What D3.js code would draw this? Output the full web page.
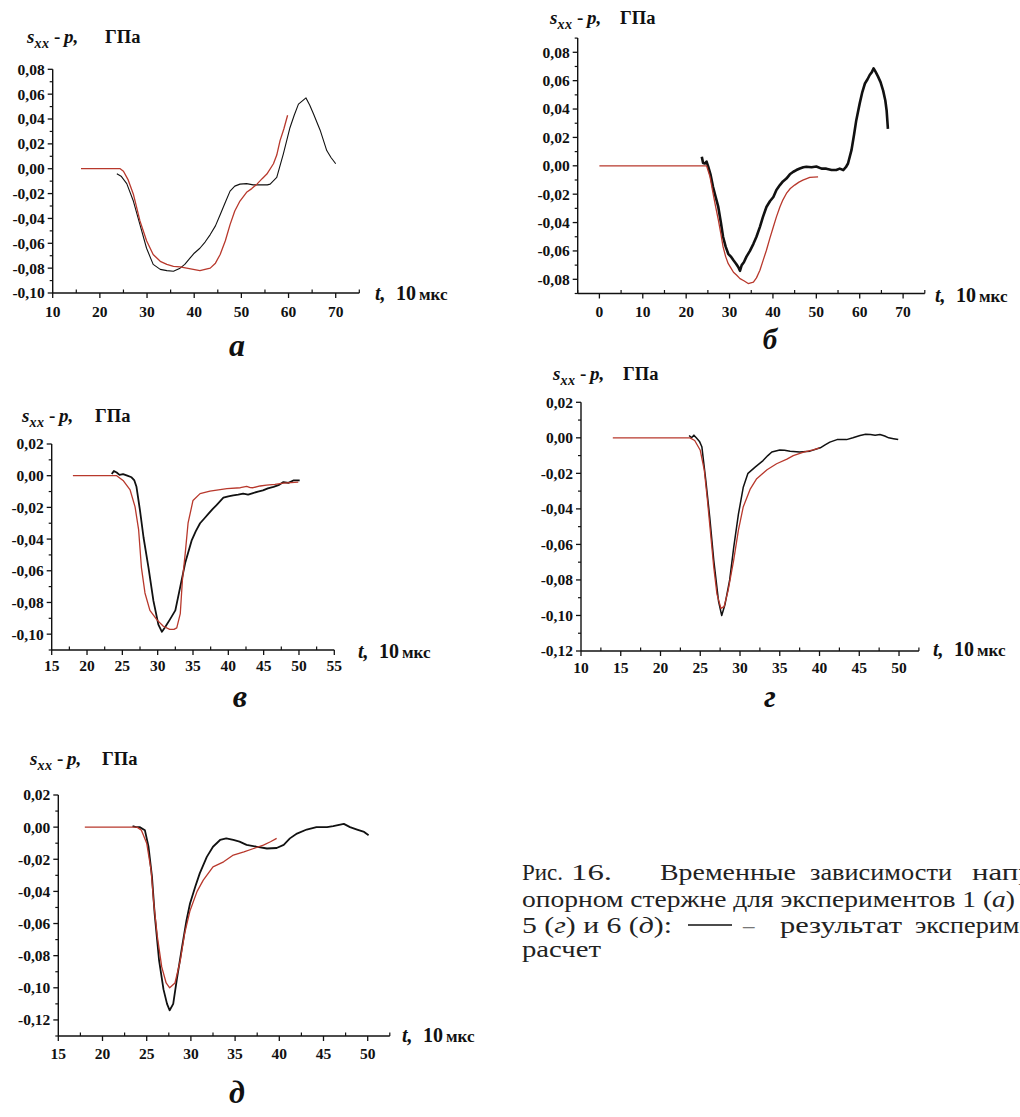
<!DOCTYPE html>
<html><head><meta charset="utf-8">
<script src="https://cdn.jsdelivr.net/npm/d3@7"></script>
<style>body{margin:0;background:#fff} svg{display:block} text{white-space:pre}</style>
</head><body><svg id="c" width="1020" height="1117"></svg>
<script>
// ---------- DATA (t in 10 мкс, value in ГПа) ----------
const expA = [[23.6,-0.004],[24.5,-0.006],[25.7,-0.012],[27.1,-0.026],[28.5,-0.045],[29.9,-0.064],[31.3,-0.077],[32.8,-0.081],[34.2,-0.082],[35.6,-0.0825],[37,-0.080],[38,-0.077],[39.1,-0.072],[40,-0.068],[41.2,-0.064],[42.3,-0.059],[43.4,-0.053],[44.5,-0.046],[45.5,-0.037],[46.6,-0.027],[47.6,-0.018],[48.6,-0.014],[49.7,-0.0124],[51.1,-0.012],[52.5,-0.013],[54,-0.013],[55.5,-0.013],[56.1,-0.0124],[57.5,-0.007],[58.9,0.012],[60.3,0.033],[61.2,0.043],[62.1,0.052],[63.7,0.057],[64.5,0.051],[65.3,0.044],[66.7,0.031],[68.1,0.0146],[69,0.009],[70,0.004]];
const calcA = [[16,0],[24.3,0],[25,-0.002],[26,-0.009],[27.1,-0.0205],[28.5,-0.042],[29.9,-0.058],[31.3,-0.069],[32.8,-0.0745],[34.2,-0.077],[35.6,-0.0785],[37,-0.079],[38.4,-0.080],[39.8,-0.081],[41.2,-0.082],[42.3,-0.081],[43.4,-0.080],[44.5,-0.076],[45.5,-0.069],[46.6,-0.058],[47.6,-0.045],[48.6,-0.034],[49.7,-0.026],[51.1,-0.019],[52.2,-0.016],[53.3,-0.0124],[54.4,-0.008],[55.4,-0.0043],[56.8,0.004],[57.5,0.011],[58.2,0.0226],[59,0.032],[59.8,0.043]];

const expB = [[23.6,0.0064],[23.9,0.002],[24.3,0.0016],[24.7,0.003],[25.1,-0.0007],[25.6,-0.006],[26.2,-0.015],[26.8,-0.022],[27.4,-0.029],[28,-0.040],[28.5,-0.05],[29.1,-0.057],[29.7,-0.062],[30.3,-0.064],[30.9,-0.0666],[31.5,-0.069],[32,-0.0713],[32.4,-0.074],[32.8,-0.07],[33.3,-0.068],[33.9,-0.064],[34.7,-0.06],[35.5,-0.055],[36.2,-0.05],[37,-0.043],[37.7,-0.036],[38.5,-0.029],[39.3,-0.025],[40.1,-0.022],[40.8,-0.017],[41.6,-0.0136],[42.3,-0.011],[43.1,-0.009],[43.9,-0.006],[44.7,-0.0042],[45.4,-0.003],[46.2,-0.0019],[47,-0.001],[47.7,-0.0007],[48.9,-0.001],[50,-0.0005],[51.2,-0.002],[52.3,-0.002],[53.5,-0.003],[54.6,-0.003],[55.4,-0.002],[56.2,-0.003],[56.8,-0.001],[57.3,0.0016],[58.1,0.011],[58.7,0.022],[59.2,0.032],[60,0.044],[60.6,0.052],[61.2,0.058],[61.8,0.061],[62.3,0.064],[62.8,0.066],[63.2,0.0687],[63.7,0.066],[64.2,0.063],[64.8,0.059],[65.4,0.053],[65.9,0.046],[66.2,0.039],[66.5,0.026]];
const calcB = [[0,0],[24.7,0],[25.5,-0.0078],[26.2,-0.0195],[26.8,-0.029],[27.4,-0.038],[28,-0.048],[28.5,-0.057],[29.1,-0.064],[29.7,-0.069],[30.3,-0.072],[30.9,-0.075],[31.6,-0.077],[32.4,-0.0795],[33.3,-0.081],[34.3,-0.083],[35.5,-0.082],[36.2,-0.079],[37,-0.0736],[37.7,-0.067],[38.5,-0.0595],[39.3,-0.051],[40.1,-0.043],[40.8,-0.036],[41.6,-0.029],[42.3,-0.024],[43.1,-0.0195],[44,-0.016],[45,-0.0136],[46,-0.0115],[46.9,-0.0101],[48.5,-0.0082],[50.4,-0.0078]];

const expV = [[23.5,0.001],[23.8,0.003],[24.2,0.002],[24.6,0.0005],[25.1,0.001],[25.7,0],[26.3,-0.001],[26.7,-0.003],[27,-0.007],[27.5,-0.022],[28,-0.039],[28.7,-0.058],[29.4,-0.079],[30.1,-0.094],[30.6,-0.0985],[31,-0.096],[31.7,-0.091],[32.5,-0.085],[33.2,-0.070],[33.9,-0.055],[34.8,-0.041],[35.4,-0.035],[36,-0.030],[36.6,-0.027],[37.2,-0.024],[37.8,-0.021],[38.3,-0.0187],[39.3,-0.0139],[40,-0.013],[40.7,-0.0124],[41.4,-0.012],[42.1,-0.0113],[42.8,-0.012],[43.5,-0.011],[44.2,-0.010],[44.9,-0.0093],[45.6,-0.008],[46.4,-0.0071],[47.1,-0.006],[47.8,-0.004],[48.5,-0.0045],[49.2,-0.003],[50.1,-0.003]];
const calcV = [[18,0],[24.2,0],[25.1,-0.003],[26.1,-0.009],[26.8,-0.0197],[27.3,-0.034],[27.7,-0.058],[28.2,-0.074],[28.9,-0.085],[29.9,-0.091],[30.8,-0.095],[31.7,-0.097],[32.3,-0.097],[32.7,-0.096],[33.2,-0.087],[33.5,-0.066],[33.9,-0.049],[34.3,-0.030],[35,-0.0156],[36,-0.0113],[37.4,-0.0097],[39.8,-0.0082],[41.7,-0.0076],[42.6,-0.0067],[43.1,-0.0075],[43.5,-0.0076],[44.5,-0.0065],[45.4,-0.006],[46.6,-0.0055],[47.8,-0.0047],[49.9,-0.004]];

const expG = [[23.6,0.0013],[23.9,0],[24.2,0.0015],[24.5,0],[24.9,-0.002],[25.2,-0.005],[25.7,-0.024],[26.2,-0.045],[26.7,-0.069],[27.3,-0.092],[27.7,-0.1],[28.1,-0.094],[28.7,-0.08],[29.2,-0.062],[29.8,-0.043],[30.4,-0.028],[31,-0.02],[31.9,-0.0165],[32.9,-0.0128],[33.5,-0.010],[34,-0.008],[35,-0.0068],[35.6,-0.007],[36.3,-0.0075],[37.5,-0.008],[38.8,-0.0075],[40.1,-0.0056],[40.7,-0.004],[41.3,-0.0024],[42.2,-0.001],[43.4,-0.001],[44.2,0],[45.1,0.0013],[45.8,0.002],[46.4,0.0019],[47,0.0015],[47.6,0.0019],[48.2,0.001],[48.7,0],[49.3,-0.0005],[49.9,-0.001]];
const calcG = [[14,0],[23.7,0],[24.3,-0.0015],[25,-0.007],[25.5,-0.018],[25.9,-0.035],[26.3,-0.054],[26.7,-0.073],[27.1,-0.088],[27.6,-0.096],[28,-0.095],[28.5,-0.086],[29.2,-0.069],[29.8,-0.052],[30.4,-0.039],[31.3,-0.0287],[32.1,-0.023],[33.4,-0.018],[34.6,-0.0146],[35.9,-0.012],[36.7,-0.010],[38,-0.008],[39.2,-0.0068],[40,-0.0056]];

const expD = [[23.4,0.0006],[23.8,0],[24.2,0],[24.8,-0.002],[25.2,-0.012],[25.6,-0.031],[25.9,-0.054],[26.4,-0.083],[26.9,-0.101],[27.3,-0.11],[27.6,-0.114],[28,-0.11],[28.4,-0.095],[29,-0.0745],[29.5,-0.058],[29.9,-0.0475],[30.5,-0.037],[31,-0.0288],[31.8,-0.0185],[32.5,-0.0122],[33.3,-0.008],[34,-0.007],[34.8,-0.008],[35.5,-0.009],[36.3,-0.011],[37.4,-0.0122],[38.6,-0.0133],[39.7,-0.013],[40.5,-0.011],[41.2,-0.007],[42,-0.004],[43.1,-0.0015],[44.2,0],[45.4,0],[46.1,0.0006],[47.3,0.002],[48,0],[48.8,-0.0015],[49.6,-0.003],[50.1,-0.005]];
const calcD = [[18,0],[23.9,0],[24.4,-0.0019],[25,-0.010],[25.5,-0.027],[25.8,-0.0475],[26.2,-0.068],[26.7,-0.087],[27.2,-0.097],[27.6,-0.1],[28.2,-0.097],[28.8,-0.083],[29.3,-0.066],[29.9,-0.052],[30.7,-0.040],[31.4,-0.033],[32.5,-0.0247],[33.7,-0.0216],[34.8,-0.0174],[36,-0.0154],[37.1,-0.0133],[38.2,-0.0112],[39,-0.0091],[39.7,-0.007]];

// tick values
const xTicksA = [10,20,30,40,50,60,70];
const yTicksA = [-0.10,-0.08,-0.06,-0.04,-0.02,0,0.02,0.04,0.06,0.08];
const xTicksB = [0,10,20,30,40,50,60,70];
const yTicksB = [-0.08,-0.06,-0.04,-0.02,0,0.02,0.04,0.06,0.08];
const xTicksV = [15,20,25,30,35,40,45,50,55];
const yTicksV = [-0.10,-0.08,-0.06,-0.04,-0.02,0,0.02];
const xTicksG = [10,15,20,25,30,35,40,45,50];
const yTicksG = [-0.12,-0.10,-0.08,-0.06,-0.04,-0.02,0,0.02];
const xTicksD = [15,20,25,30,35,40,45,50];
const yTicksD = [-0.12,-0.10,-0.08,-0.06,-0.04,-0.02,0,0.02];

const panelLetters = ["а","б","в","г","д"];
const yTitle = ["s","xx","-","p,","ГПа"];
const xTitle = ["t,","10","мкс"];

// ---------- LAYOUT ----------
const layout = [
 {exp:expA, calc:calcA, xt:xTicksA, yt:yTicksA, xd:[10,75], xr:[52.7,359.3], yd:[-0.10,0.08], yr:[293,69.3], xStep:5,
  ylab:[27,43,78], xlab:[375,300], letter:[237,356], lblGap:24, expW:1.1},
 {exp:expB, calc:calcB, xt:xTicksB, yt:yTicksB, xd:[-5,75], xr:[577.7,924.8], yd:[-0.09,0.09], yr:[293.5,38.1], xStep:5,
  ylab:[550,24,70], xlab:[935,302], letter:[770,349], lblGap:23, expW:2.6},
 {exp:expV, calc:calcV, xt:xTicksV, yt:yTicksV, xd:[15,55], xr:[51.7,334.3], yd:[-0.11,0.02], yr:[650,444], xStep:2.5,
  ylab:[22,422,73], xlab:[358,658], letter:[240,707], lblGap:21, expW:1.8},
 {exp:expG, calc:calcG, xt:xTicksG, yt:yTicksG, xd:[10,52.5], xr:[581,918.9], yd:[-0.12,0.02], yr:[651,402.3], xStep:2.5,
  ylab:[553,380,70], xlab:[933,656], letter:[770,707], lblGap:22, expW:1.5},
 {exp:expD, calc:calcD, xt:xTicksD, yt:yTicksD, xd:[15,52.5], xr:[58.3,389.8], yd:[-0.13,0.02], yr:[1036,795], xStep:2.5,
  ylab:[30,765,72], xlab:[402,1042], letter:[237,1103], lblGap:23, expW:1.8}
];

const RED = "#b8382c";
const SERIF = "Liberation Serif, DejaVu Serif, serif";
const svg = d3.select("#c");
const fmt = v => (v < -1e-9 ? "-" : "") + Math.abs(v).toFixed(2).replace(".", ",");

layout.forEach((p, i) => {
  const x = d3.scaleLinear().domain(p.xd).range(p.xr);
  const y = d3.scaleLinear().domain(p.yd).range(p.yr);
  const g = svg.append("g");
  const ax = p.xr[0], ay = p.yr[0];

  g.append("line").attr("x1",ax).attr("x2",p.xr[1]).attr("y1",ay).attr("y2",ay).attr("stroke","#111").attr("stroke-width",1.4);
  g.append("line").attr("x1",ax).attr("x2",ax).attr("y1",ay).attr("y2",p.yr[1]).attr("stroke","#111").attr("stroke-width",1.4);

  const xMinor = d3.range(p.xd[0], p.xd[1] + 1e-6, p.xStep).filter(v => !p.xt.some(t => Math.abs(t - v) < 1e-6));
  g.selectAll(null).data(xMinor).join("line")
    .attr("x1", d => x(d)).attr("x2", d => x(d)).attr("y1", ay).attr("y2", ay - 3.5)
    .attr("stroke","#111").attr("stroke-width",1.2);
  const yMinor = d3.range(Math.round(p.yd[0]*100), Math.round(p.yd[1]*100) + 1, 1).map(v => v/100)
    .filter(v => !p.yt.some(t => Math.abs(t - v) < 1e-6));
  g.selectAll(null).data(yMinor).join("line")
    .attr("x1", ax).attr("x2", ax - 3).attr("y1", d => y(d)).attr("y2", d => y(d))
    .attr("stroke","#111").attr("stroke-width",1.2);

  g.selectAll(null).data(p.xt).join("line")
    .attr("x1", d => x(d)).attr("x2", d => x(d)).attr("y1", ay).attr("y2", ay + 5)
    .attr("stroke","#111").attr("stroke-width",1.3);
  g.selectAll(null).data(p.yt).join("line")
    .attr("x1", ax).attr("x2", ax - 5).attr("y1", d => y(d)).attr("y2", d => y(d))
    .attr("stroke","#111").attr("stroke-width",1.3);

  g.selectAll(null).data(p.xt).join("text")
    .attr("x", d => x(d)).attr("y", ay + p.lblGap).attr("text-anchor","middle")
    .style("font-family", SERIF).attr("font-weight","bold").attr("font-size",15.5).attr("fill","#111")
    .text(d => d);
  g.selectAll(null).data(p.yt).join("text")
    .attr("x", ax - 8).attr("y", d => y(d)).attr("dy","0.35em").attr("text-anchor","end")
    .style("font-family", SERIF).attr("font-weight","bold").attr("font-size",15.5).attr("fill","#111")
    .text(d => fmt(d));

  const [lx, ly, gx] = p.ylab;
  const tg = g.append("g").style("font-family", SERIF).attr("font-weight","bold").attr("fill","#111");
  tg.append("text").attr("x", lx).attr("y", ly).attr("font-size",19).attr("font-style","italic").text(yTitle[0]);
  tg.append("text").attr("x", lx + 7.5).attr("y", ly + 5).attr("font-size",14).attr("font-style","italic").attr("letter-spacing",0.5).text(yTitle[1]);
  tg.append("text").attr("x", lx + 27).attr("y", ly).attr("font-size",19).text(yTitle[2]);
  tg.append("text").attr("x", lx + 37).attr("y", ly).attr("font-size",19).attr("font-style","italic").text(yTitle[3]);
  tg.append("text").attr("x", lx + gx).attr("y", ly).attr("font-size",18.5).text(yTitle[4]);

  const xg = g.append("g").style("font-family", SERIF).attr("font-weight","bold").attr("fill","#111");
  xg.append("text").attr("x", p.xlab[0]).attr("y", p.xlab[1]).attr("font-size",20).attr("font-style","italic").text(xTitle[0]);
  xg.append("text").attr("x", p.xlab[0] + 21).attr("y", p.xlab[1]).attr("font-size",20).text(xTitle[1]);
  xg.append("text").attr("x", p.xlab[0] + 44).attr("y", p.xlab[1]).attr("font-size",17).text(xTitle[2]);

  g.append("text").attr("x", p.letter[0]).attr("y", p.letter[1]).attr("text-anchor","middle")
    .style("font-family", SERIF).attr("font-weight","bold").attr("font-style","italic").attr("font-size",i === 1 ? 29 : 32).attr("fill","#111")
    .text(panelLetters[i]);

  const line = d3.line().x(d => x(d[0])).y(d => y(d[1]));
  g.append("path").datum(p.exp).attr("d", line).attr("fill","none").attr("stroke","#111")
    .attr("stroke-width", p.expW).attr("stroke-linejoin","round");
  g.append("path").datum(p.calc).attr("d", line).attr("fill","none").attr("stroke",RED)
    .attr("stroke-width",1.3).attr("stroke-linejoin","round");
});

// ---------- CAPTION ----------
const cap = svg.append("g").style("font-family", SERIF).attr("font-size",23).attr("fill","#222");
function capText(x, y, len, parts) {
  const t = cap.append("text").attr("x", x).attr("y", y);
  if (len) t.attr("textLength", len).attr("lengthAdjust", "spacingAndGlyphs");
  parts.forEach(pt => {
    const s = t.append("tspan").text(pt[0]);
    if (pt[1]) s.attr("font-style", "italic");
  });
  return t;
}
capText(522, 880, 41, [["Рис."]]);
capText(571, 880, 41, [["16."]]);
capText(660, 880, 136, [["Временные"]]);
capText(810, 880, 142, [["зависимости"]]);
capText(972, 880, 160, [["напряжений"]]);
capText(522, 907, 493, [["опорном стержне для экспериментов 1 ("],["а",1],[")"]]);
capText(522, 933, 150, [["5 ("],["г",1],[") и 6 ("],["д",1],["):"]]);
cap.append("line").attr("x1",688).attr("x2",732).attr("y1",925).attr("y2",925).attr("stroke","#111").attr("stroke-width",1.6);
cap.append("text").attr("x",743).attr("y",933).attr("fill","#777").text("–");
capText(780, 933, 122, [["результат"]]);
capText(915, 933, 160, [["эксперимента,"]]);
capText(522, 957, 79, [["расчет"]]);
</script>
</body></html>
